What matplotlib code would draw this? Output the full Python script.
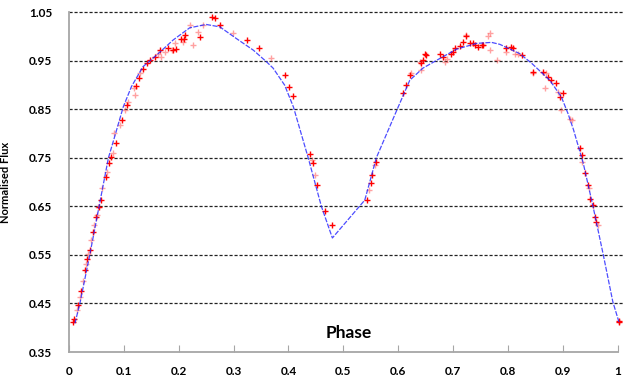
import matplotlib
matplotlib.use("Agg")
import matplotlib.pyplot as plt

plt.rcParams["font.family"] = ["Lato", "DejaVu Sans"]

# Light-curve model (phase, normalised flux)
model_phase = [0.011, 0.02, 0.038, 0.055, 0.072, 0.085, 0.099, 0.114, 0.135, 0.16,
               0.19, 0.22, 0.25, 0.275, 0.305, 0.336, 0.36, 0.372, 0.393, 0.409,
               0.436, 0.46, 0.48, 0.539, 0.548, 0.56, 0.598, 0.621, 0.645, 0.676,
               0.706, 0.743, 0.77, 0.785, 0.821, 0.843, 0.876, 0.897, 0.909, 0.919,
               0.937, 0.955, 0.973, 0.991, 1.002]
model_flux = [0.409, 0.45, 0.55, 0.65, 0.75, 0.80, 0.855, 0.897, 0.938, 0.962,
              0.993, 1.018, 1.025, 1.020, 0.996, 0.972, 0.948, 0.935, 0.900, 0.855,
              0.75, 0.65, 0.585, 0.663, 0.70, 0.75, 0.85, 0.91, 0.935, 0.955,
              0.974, 0.986, 0.988, 0.984, 0.965, 0.945, 0.910, 0.876, 0.842, 0.809,
              0.739, 0.649, 0.553, 0.453, 0.412]

# Observations
obs_phase = [0.007, 0.009, 0.017, 0.022, 0.029, 0.033, 0.038, 0.044, 0.049, 0.055,
             0.058, 0.067, 0.073, 0.076, 0.085, 0.096, 0.105, 0.122, 0.128, 0.135,
             0.143, 0.148, 0.157, 0.166, 0.181, 0.190, 0.196, 0.205, 0.211, 0.209,
             0.239, 0.260, 0.266, 0.275, 0.324, 0.347, 0.393, 0.401, 0.409, 0.439,
             0.445, 0.452, 0.466, 0.479, 0.543, 0.550, 0.553, 0.559, 0.609, 0.615,
             0.621, 0.642, 0.645, 0.650, 0.676, 0.682, 0.697, 0.703, 0.712, 0.723,
             0.730, 0.740, 0.746, 0.755, 0.718, 0.736, 0.752, 0.797, 0.806, 0.809,
             0.825, 0.846, 0.864, 0.873, 0.879, 0.888, 0.894, 0.900, 0.931, 0.934,
             0.940, 0.946, 0.950, 0.954, 0.958, 0.961, 1.002, 1.003, 0.648, 0.700]
obs_flux = [0.412, 0.417, 0.446, 0.476, 0.519, 0.541, 0.561, 0.598, 0.629, 0.649,
            0.664, 0.711, 0.739, 0.751, 0.781, 0.828, 0.859, 0.898, 0.914, 0.934,
            0.945, 0.952, 0.958, 0.972, 0.976, 0.972, 0.974, 0.996, 1.003, 0.995,
            1.000, 1.040, 1.038, 1.024, 0.993, 0.977, 0.921, 0.897, 0.877, 0.759,
            0.739, 0.695, 0.640, 0.611, 0.663, 0.699, 0.715, 0.742, 0.883, 0.900,
            0.921, 0.945, 0.952, 0.962, 0.965, 0.958, 0.965, 0.976, 0.981, 1.001,
            0.986, 0.983, 0.979, 0.983, 0.989, 0.986, 0.983, 0.976, 0.979, 0.976,
            0.962, 0.928, 0.928, 0.917, 0.910, 0.904, 0.876, 0.883, 0.770, 0.756,
            0.718, 0.694, 0.666, 0.653, 0.629, 0.618, 0.414, 0.412, 0.965, 0.969]

# Noisier observations, drawn paler
faint_phase = [0.014, 0.020, 0.026, 0.031, 0.035, 0.041, 0.046, 0.052, 0.053, 0.061,
               0.070, 0.080, 0.082, 0.093, 0.102, 0.108, 0.118, 0.120, 0.129, 0.163,
               0.168, 0.175, 0.187, 0.193, 0.207, 0.220, 0.226, 0.235, 0.245, 0.299,
               0.369, 0.442, 0.448, 0.547, 0.557, 0.624, 0.639, 0.641, 0.685, 0.688,
               0.724, 0.764, 0.767, 0.767, 0.779, 0.797, 0.812, 0.818, 0.846, 0.867,
               0.870, 0.891, 0.897, 0.913, 0.916, 0.934, 0.947, 0.963]
faint_flux = [0.436, 0.464, 0.496, 0.532, 0.552, 0.580, 0.611, 0.632, 0.648, 0.687,
              0.721, 0.760, 0.802, 0.818, 0.849, 0.866, 0.893, 0.879, 0.925, 0.965,
              0.958, 0.969, 0.972, 0.986, 0.989, 1.024, 0.983, 1.010, 1.024, 1.007,
              0.955, 0.745, 0.715, 0.684, 0.735, 0.925, 0.948, 0.931, 0.948, 0.953,
              1.003, 1.001, 1.007, 0.972, 0.952, 0.969, 0.965, 0.965, 0.924, 0.895,
              0.924, 0.886, 0.849, 0.831, 0.829, 0.742, 0.688, 0.611]

x_ticks = [0, 0.1, 0.2, 0.3, 0.4, 0.5, 0.6, 0.7, 0.8, 0.9, 1]
x_tick_labels = ["0", "0.1", "0.2", "0.3", "0.4", "0.5", "0.6", "0.7", "0.8", "0.9", "1"]
y_ticks = [0.35, 0.45, 0.55, 0.65, 0.75, 0.85, 0.95, 1.05]
y_tick_labels = ["0.35", "0.45", "0.55", "0.65", "0.75", "0.85", "0.95", "1.05"]

fig = plt.figure(figsize=(6.32, 3.81), dpi=100)
ax = fig.add_axes([0.109, 0.0761, 0.879, 0.8916])
ax.set_xlim(0, 1.012)
ax.set_ylim(0.35, 1.05)

# dashed horizontal guides
for yv in y_ticks[1:]:
    ax.axhline(yv, color="#222222", lw=0.9, ls=(0, (2.5, 1.5)), clip_on=False, zorder=1)

ax.scatter(faint_phase, faint_flux, marker="+", s=18, color="#ff3030",
           alpha=0.45, linewidths=1.0, zorder=2)
ax.scatter(obs_phase, obs_flux, marker="+", s=18, color="#ff0000",
           linewidths=1.0, zorder=3)
ax.plot(model_phase, model_flux, color="#2020ff", lw=0.9, ls=(0, (4, 1.2)),
        alpha=0.8, zorder=4)

for side in ("top", "right"):
    ax.spines[side].set_visible(False)
for side in ("left", "bottom"):
    ax.spines[side].set_color("#a6a6a6")
    ax.spines[side].set_linewidth(1.3)
ax.spines["bottom"].set_bounds(0, 1)

ax.set_xticks(x_ticks)
ax.set_xticklabels(x_tick_labels, fontsize=8.5, fontweight="bold")
ax.set_yticks(y_ticks)
ax.set_yticklabels(y_tick_labels, fontsize=8.5, fontweight="bold")
ax.tick_params(axis="x", direction="in", length=5, color="#a6a6a6", pad=10)
ax.tick_params(axis="y", length=0, pad=12)

ax.set_ylabel("Normalised Flux", fontsize=8, fontweight="bold", labelpad=13)
ax.text(0.51, 0.39, "Phase", fontsize=12.5, fontweight="bold", ha="center", va="center")

fig.savefig("out.png", dpi=100)
